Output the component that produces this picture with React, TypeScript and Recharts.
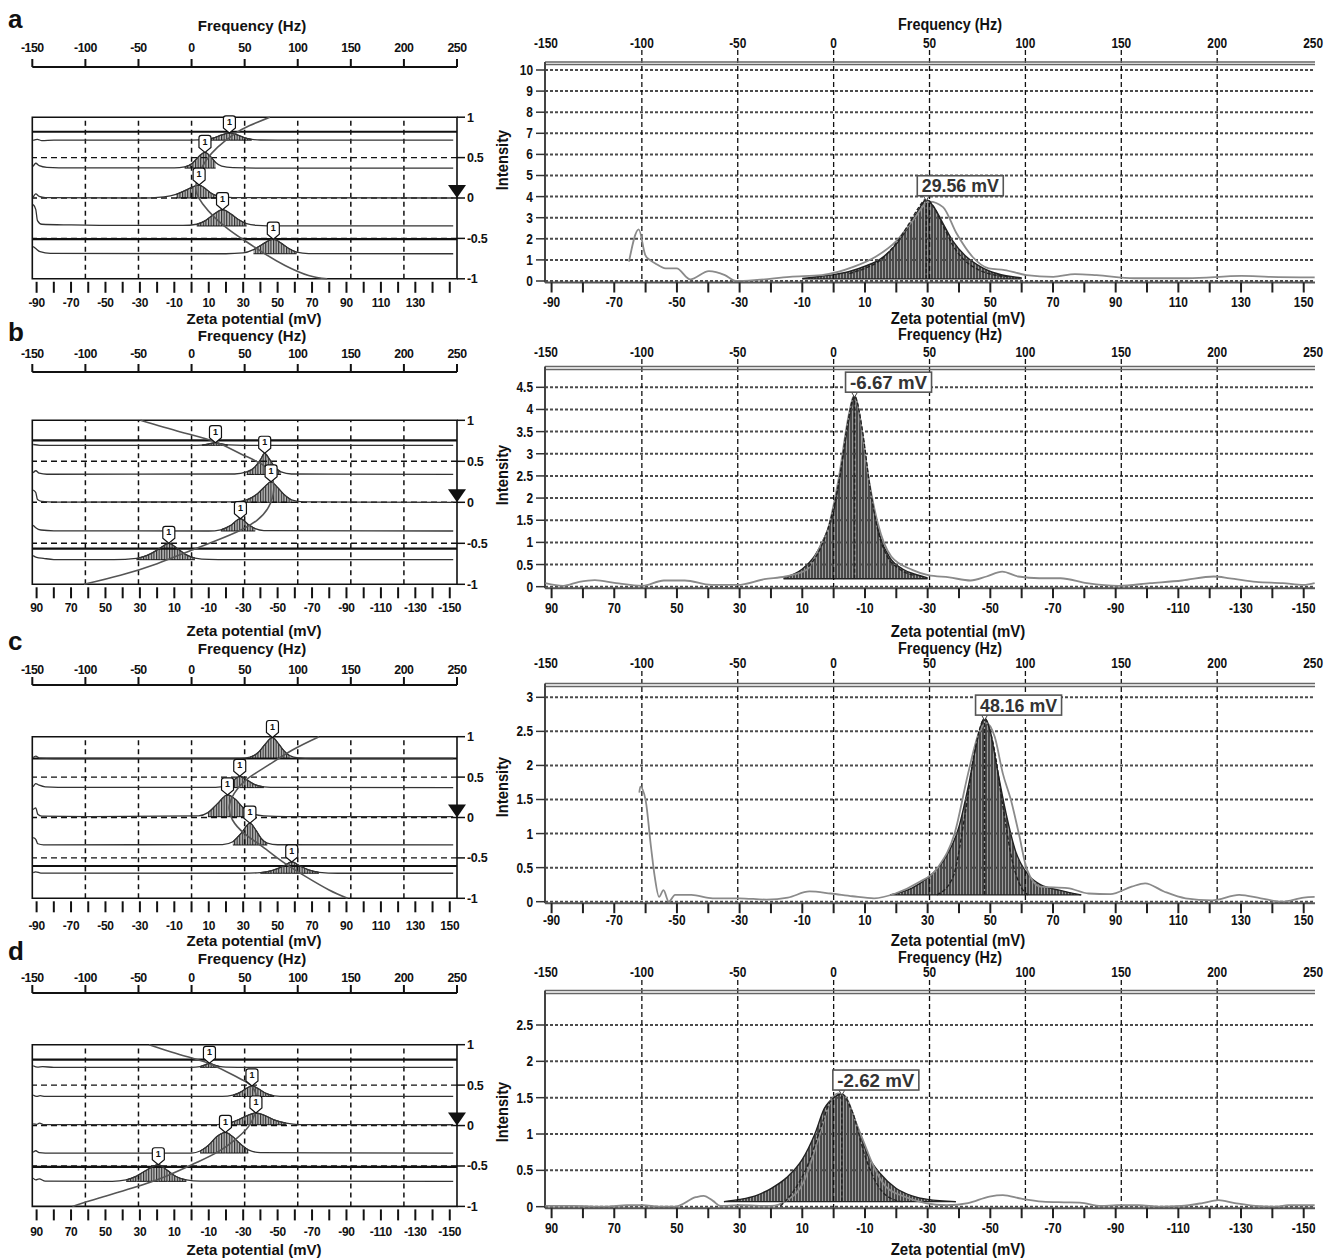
import React from 'react';
import {
  ComposedChart, Line, Area, XAxis, YAxis,
  ReferenceLine, ReferenceDot, ReferenceArea,
} from 'recharts';

type P = [number, number];

// ---------------- tick values ----------------
const freqTicks = [-150, -100, -50, 0, 50, 100, 150, 200, 250];
const freqGridLines = [-100, -50, 0, 50, 100, 150, 200];
const zetaTicksUp = [-90, -80, -70, -60, -50, -40, -30, -20, -10, 0, 10, 20, 30, 40, 50, 60, 70, 80, 90, 100, 110, 120, 130, 140, 150];
const zetaTicksDown = [90, 80, 70, 60, 50, 40, 30, 20, 10, 0, -10, -20, -30, -40, -50, -60, -70, -80, -90, -100, -110, -120, -130, -140, -150];
const zetaLabelsUp = [-90, -70, -50, -30, -10, 10, 30, 50, 70, 90, 110, 130, 150];
const zetaLabelsUpShort = [-90, -70, -50, -30, -10, 10, 30, 50, 70, 90, 110, 130];
const zetaLabelsDown = [90, 70, 50, 30, 10, -10, -30, -50, -70, -90, -110, -130, -150];
const phaseTicks = [-1, -0.5, 0, 0.5, 1];
const intensityTicksA = [0, 1, 2, 3, 4, 5, 6, 7, 8, 9, 10];
const intensityTicksB = [0, 0.5, 1, 1.5, 2, 2.5, 3, 3.5, 4, 4.5];
const intensityTicksC = [0, 0.5, 1, 1.5, 2, 2.5, 3];
const intensityTicksD = [0, 0.5, 1, 1.5, 2, 2.5];

// ---------------- right panels: intensity vs zeta (mV) ----------------
const aRaw: P[] = [[-65.3, 0.92], [-62.2, 2.45], [-60.1, 1.23], [-58.7, 1.0], [-57, 0.84], [-53.6, 0.6], [-50.1, 0.6], [-45.8, 0.08], [-39.8, 0.47], [-34.7, 0.28], [-31.2, 0.0], [-24.4, 0.05], [-14, 0.2], [-3.8, 0.28], [6.5, 0.68], [13.4, 1.15], [20.3, 1.94], [25.4, 2.9], [30.6, 3.76], [34.9, 3.5], [39.2, 2.26], [44.3, 1.15], [49.5, 0.6], [54.6, 0.52], [61.5, 0.28], [70.1, 0.2], [77, 0.33], [83.9, 0.28], [95.9, 0.13], [113, 0.13], [130.2, 0.24], [138.8, 0.2], [153.5, 0.17]];
const aHatch: P[] = [[-10, 0.12], [-5, 0.2], [0, 0.3], [5, 0.45], [10, 0.7], [15, 1.05], [20, 1.75], [24, 2.6], [27, 3.35], [29.56, 3.85], [32, 3.5], [35, 2.7], [38, 1.9], [42, 1.2], [46, 0.75], [50, 0.45], [55, 0.25], [60, 0.15]];
const aFit: P[] = [[5, 0.35], [10, 0.6], [15, 1.0], [20, 1.8], [24, 2.7], [27, 3.45], [29.56, 3.88], [32, 3.5], [35, 2.6], [38, 1.7], [42, 0.95], [46, 0.55], [50, 0.33], [56, 0.2]];

const bRaw: P[] = [[92, 0.08], [86.3, 0.02], [81.2, 0.11], [76.2, 0.15], [69.4, 0.08], [61, 0.02], [54.2, 0.14], [47.5, 0.14], [39, 0.04], [30.6, 0.04], [22.1, 0.17], [15.4, 0.23], [8.6, 0.38], [4.4, 0.9], [1.9, 1.28], [-1.5, 2.4], [-4.9, 3.9], [-6.6, 4.33], [-8.2, 3.9], [-10.8, 2.6], [-14.1, 1.43], [-18.4, 0.68], [-25.1, 0.38], [-30.2, 0.26], [-36.9, 0.21], [-43.7, 0.14], [-48.8, 0.23], [-53.8, 0.34], [-58.9, 0.23], [-65.6, 0.19], [-72.4, 0.19], [-80.8, 0.08], [-91, 0.02], [-101, 0.08], [-111.2, 0.14], [-121.3, 0.23], [-126.4, 0.19], [-134.8, 0.11], [-143.3, 0.08], [-150, 0.04], [-153.5, 0.08]];
const bHatch: P[] = [[16, 0.2], [10, 0.4], [6, 0.7], [3, 1.1], [0, 1.7], [-2, 2.5], [-4, 3.4], [-5.5, 4.0], [-6.67, 4.3], [-8, 4.0], [-9.5, 3.3], [-11, 2.5], [-13, 1.7], [-15, 1.1], [-18, 0.65], [-22, 0.4], [-26, 0.28], [-30, 0.2]];
const bFit: P[] = [[8, 0.45], [4, 0.9], [1, 1.5], [-2, 2.5], [-4.5, 3.7], [-6.67, 4.3], [-9, 3.6], [-11.5, 2.3], [-14, 1.3], [-17, 0.7], [-21, 0.4], [-26, 0.25]];

const cRaw: P[] = [[-62, 1.6], [-61.7, 1.69], [-60, 1.49], [-58.3, 0.81], [-57.1, 0.37], [-55.7, 0.07], [-54.3, 0.17], [-52.6, 0.0], [-50.6, 0.1], [-45.4, 0.1], [-38.6, 0.05], [-30, 0.05], [-21.4, 0.03], [-14.6, 0.06], [-7.7, 0.15], [-0.9, 0.12], [6, 0.08], [12.9, 0.05], [19.7, 0.12], [26.6, 0.27], [33.4, 0.51], [38.6, 1.0], [42.9, 1.88], [46.3, 2.47], [48.8, 2.62], [51.4, 2.42], [54, 1.88], [56.6, 1.49], [59.1, 1.0], [61.7, 0.47], [66, 0.22], [74.6, 0.2], [81.4, 0.12], [88.3, 0.11], [95.1, 0.22], [99.4, 0.27], [105.4, 0.15], [112.3, 0.05], [120.8, 0.02], [129.4, 0.1], [136.3, 0.05], [143.1, 0.0], [150, 0.06], [153.5, 0.07]];
const cHatch: P[] = [[18, 0.1], [25, 0.2], [30, 0.35], [35, 0.6], [40, 1.1], [43, 1.7], [46, 2.4], [48.16, 2.7], [50, 2.5], [52, 2.0], [55, 1.3], [58, 0.75], [62, 0.4], [66, 0.25], [72, 0.17], [79, 0.1]];
const cFit: P[] = [[33, 0.1], [38, 0.35], [42, 1.3], [45, 2.2], [48.16, 2.68], [51, 2.3], [54, 1.4], [57, 0.6], [60, 0.2], [62, 0.1]];

const dRaw: P[] = [[92, 0.01], [82.9, 0.01], [72.7, 0.0], [65.9, 0.02], [60.8, 0.02], [55.7, 0.0], [50.6, 0.0], [44, 0.13], [41.5, 0.15], [38.5, 0.08], [36.1, 0.01], [30.2, 0.02], [20, 0.01], [14.9, 0.09], [9.8, 0.32], [4.7, 0.96], [1.3, 1.42], [-1.3, 1.56], [-3.8, 1.51], [-7.2, 1.15], [-9.8, 0.87], [-12.3, 0.6], [-16.6, 0.28], [-22.5, 0.14], [-29.3, 0.05], [-36.1, 0.02], [-42.9, 0.05], [-49.7, 0.14], [-54, 0.16], [-59.9, 0.11], [-66.7, 0.07], [-73.5, 0.06], [-78.6, 0.055], [-85.4, 0.01], [-90.5, 0.02], [-97.3, 0.02], [-104.1, 0.0], [-110.9, 0.01], [-117.7, 0.05], [-122.8, 0.09], [-128, 0.05], [-134.7, 0.01], [-141.5, 0.0], [-145, 0.02], [-153.5, 0.02]];
const dHatch: P[] = [[35, 0.07], [30, 0.1], [25, 0.15], [20, 0.25], [15, 0.4], [10, 0.65], [6, 1.0], [3, 1.35], [0, 1.5], [-2.62, 1.55], [-5, 1.4], [-8, 1.05], [-11, 0.7], [-15, 0.45], [-20, 0.25], [-25, 0.15], [-30, 0.1], [-39, 0.07]];
const dFit: P[] = [[17, 0.01], [13, 0.2], [8, 0.6], [4, 1.1], [1, 1.45], [-2.62, 1.55], [-6, 1.3], [-10, 0.7], [-14, 0.3], [-18, 0.12], [-22, 0.07]];

const hatchBases = [0.1, 0.18, 0.1, 0.07];
const peakZ = [29.56, -6.67, 48.16, -2.62];
const peakI = [3.85, 4.3, 2.68, 1.55];
const peakText = ['29.56 mV', '-6.67 mV', '48.16 mV', '-2.62 mV'];

// ---------------- left panels: stacked traces (phase units) ----------------
const aT1: P[] = [[-92, 0.712], [-89.5, 0.725], [-87, 0.71], [-80, 0.716], [0, 0.716], [8, 0.722], [13, 0.745], [17.5, 0.78], [22, 0.805], [26.5, 0.782], [30.5, 0.748], [35, 0.726], [40, 0.718], [50, 0.716], [152, 0.716]];
const aT2: P[] = [[-92, 0.39], [-90.5, 0.43], [-88.5, 0.4], [-84, 0.38], [-70, 0.372], [-10, 0.372], [-4, 0.385], [0.5, 0.43], [4.5, 0.52], [7.8, 0.565], [11, 0.515], [14, 0.44], [17.5, 0.395], [24, 0.376], [40, 0.37], [152, 0.37]];
const aT3: P[] = [[-92, 0.01], [-90.5, 0.05], [-88.5, 0.02], [-85, 0.005], [-30, 0.0], [-16, 0.015], [-9, 0.045], [-3, 0.1], [1.5, 0.145], [4.4, 0.16], [7.5, 0.125], [11, 0.065], [15, 0.025], [24, 0.005], [152, 0]];
const aT4: P[] = [[-92, -0.08], [-90.5, -0.14], [-89.5, -0.28], [-87, -0.325], [-70, -0.333], [-40, -0.34], [-5, -0.34], [3, -0.325], [8, -0.28], [13, -0.2], [18, -0.145], [23, -0.2], [27.5, -0.27], [32, -0.318], [38, -0.338], [50, -0.346], [152, -0.346]];
const aT5: P[] = [[-92, -0.6], [-90.5, -0.625], [-88, -0.665], [-82, -0.685], [20, -0.69], [30, -0.68], [36, -0.64], [41, -0.575], [47.5, -0.51], [52.5, -0.565], [56.5, -0.625], [61, -0.67], [68, -0.688], [152, -0.69]];
const aBases = [0.716, 0.37, 0, -0.346, -0.69];
const aHatchRanges: P[] = [[8, 38], [-4, 17], [-10, 15], [3, 34], [32, 62]];
const aFlagZ = [22, 7.8, 4.4, 18, 47.5];
const aFlagV = [0.805, 0.565, 0.16, -0.145, -0.51];
const aPhase: P[] = [[45.5, 1.0], [33.8, 0.897], [25, 0.794], [15.2, 0.629], [8.4, 0.464], [4.4, 0.299], [2.5, 0.155], [3.1, 0.052], [6.4, -0.072], [13.2, -0.237], [21.1, -0.381], [30.8, -0.526], [42.6, -0.691], [54.3, -0.835], [68, -0.959], [78.8, -1.0]];
const aSolid = [0.82, -0.51];

const bT1: P[] = [[92, 0.705], [88, 0.695], [0, 0.695], [-6, 0.698], [-10, 0.712], [-13.9, 0.728], [-17, 0.713], [-21, 0.7], [-30, 0.695], [-152, 0.695]];
const bT2: P[] = [[92, 0.36], [90.5, 0.385], [88.5, 0.355], [84, 0.342], [-25, 0.345], [-32, 0.37], [-36.5, 0.425], [-40, 0.52], [-42.5, 0.598], [-45, 0.535], [-48, 0.44], [-52, 0.37], [-58, 0.345], [-152, 0.34]];
const bT3: P[] = [[92, 0.15], [90.5, 0.12], [89.5, 0.035], [87, 0.012], [80, 0.003], [-25, 0.005], [-32, 0.03], [-38, 0.1], [-42, 0.18], [-46.2, 0.25], [-50, 0.18], [-54, 0.09], [-58, 0.03], [-65, 0.005], [-152, 0]];
const bT4: P[] = [[92, -0.28], [90.5, -0.31], [87.5, -0.338], [80, -0.348], [-10, -0.35], [-17, -0.335], [-22.5, -0.285], [-28.4, -0.2], [-33, -0.27], [-37, -0.322], [-42, -0.345], [-152, -0.35]];
const bT5: P[] = [[92, -0.65], [90, -0.672], [86, -0.684], [80, -0.698], [45, -0.7], [32, -0.685], [24, -0.63], [18, -0.555], [13.2, -0.5], [8.5, -0.56], [3.5, -0.635], [-2, -0.68], [-10, -0.697], [-40, -0.7], [-152, -0.7]];
const bBases = [0.695, 0.34, 0, -0.35, -0.7];
const bHatchRanges: P[] = [[-6, -21], [-32, -52], [-32, -58], [-17, -37], [32, -2]];
const bFlagZ = [-13.9, -42.5, -46.2, -28.4, 13.2];
const bFlagV = [0.728, 0.598, 0.25, -0.2, -0.5];
const bPhase: P[] = [[29.7, 1.0], [6.4, 0.858], [-13.9, 0.736], [-28.4, 0.593], [-41.9, 0.451], [-46.8, 0.309], [-47.7, 0.146], [-44.8, -0.057], [-38, -0.22], [-28.4, -0.341], [-14.8, -0.463], [2.6, -0.606], [20, -0.748], [41.3, -0.89], [62.5, -1.0]];
const bSolid = [0.756, -0.565];

const cT1: P[] = [[-92, 0.742], [-90.5, 0.76], [-88.5, 0.736], [-80, 0.73], [28, 0.73], [34, 0.748], [38.5, 0.8], [42.5, 0.9], [47, 0.99], [50.5, 0.915], [53.5, 0.83], [57, 0.765], [62, 0.737], [70, 0.73], [152, 0.73]];
const cT2: P[] = [[-92, 0.38], [-90.5, 0.42], [-88.5, 0.4], [-85, 0.38], [-70, 0.372], [14, 0.374], [20, 0.398], [24, 0.455], [28, 0.51], [32, 0.468], [36.5, 0.41], [42, 0.38], [50, 0.372], [152, 0.37]];
const cT3: P[] = [[-92, 0.1], [-90.5, 0.12], [-89.3, 0.04], [-87, 0.016], [-60, 0.01], [4, 0.02], [9.5, 0.06], [15, 0.17], [20.9, 0.28], [25.5, 0.225], [30, 0.12], [35, 0.05], [42, 0.02], [55, 0.01], [152, 0.01]];
const cT4: P[] = [[-92, -0.25], [-90.5, -0.27], [-89.3, -0.325], [-86, -0.338], [18, -0.336], [24, -0.3], [29, -0.19], [33.9, -0.07], [37.5, -0.16], [40.5, -0.26], [44, -0.318], [50, -0.337], [152, -0.34]];
const cT5: P[] = [[-92, -0.682], [-90.5, -0.672], [-87.5, -0.688], [30, -0.69], [40, -0.682], [47, -0.655], [53, -0.605], [58.2, -0.55], [63, -0.6], [68, -0.648], [74, -0.678], [85, -0.69], [152, -0.69]];
const cBases = [0.73, 0.37, 0.01, -0.34, -0.69];
const cHatchRanges: P[] = [[34, 57], [20, 42], [9, 35], [23, 44], [40, 74]];
const cFlagZ = [47, 28, 20.9, 33.9, 58.2];
const cFlagV = [0.99, 0.51, 0.28, -0.07, -0.55];
const cPhase: P[] = [[74.1, 1.0], [58.6, 0.835], [43.2, 0.629], [31.5, 0.464], [24.8, 0.299], [21.9, 0.134], [23.8, -0.031], [30.6, -0.196], [41.2, -0.361], [52.8, -0.546], [66.4, -0.732], [79.9, -0.897], [90.6, -1.0]];
const cSolid = [0.73, -0.6];

const dT1: P[] = [[92, 0.74], [89.5, 0.722], [86.5, 0.728], [80, 0.72], [0, 0.72], [-5, 0.73], [-8, 0.752], [-10.4, 0.77], [-13, 0.75], [-16, 0.732], [-20, 0.722], [-30, 0.72], [-152, 0.72]];
const dT2: P[] = [[92, 0.378], [90, 0.36], [88, 0.37], [85, 0.36], [-18, 0.36], [-24, 0.375], [-29, 0.42], [-32.5, 0.468], [-35.1, 0.49], [-38.5, 0.46], [-43, 0.4], [-48, 0.368], [-55, 0.36], [-152, 0.36]];
const dT3: P[] = [[92, 0.02], [90, 0.015], [88.3, 0.03], [86, 0.012], [-15, 0.012], [-22, 0.03], [-28, 0.08], [-33, 0.13], [-37.4, 0.155], [-42, 0.13], [-48, 0.07], [-55, 0.03], [-62, 0.012], [-152, 0.01]];
const dT4: P[] = [[92, -0.33], [90.5, -0.312], [88.5, -0.335], [85, -0.34], [0, -0.34], [-5, -0.315], [-10, -0.24], [-14.5, -0.14], [-19.7, -0.085], [-23.5, -0.13], [-28, -0.22], [-33, -0.3], [-40, -0.335], [-152, -0.34]];
const dT5: P[] = [[92, -0.65], [90.5, -0.672], [88.5, -0.66], [85, -0.688], [46, -0.69], [38, -0.672], [32, -0.625], [26, -0.55], [19.3, -0.485], [14, -0.555], [9, -0.63], [3, -0.672], [-5, -0.687], [-152, -0.69]];
const dBases = [0.72, 0.36, 0.01, -0.34, -0.69];
const dHatchRanges: P[] = [[-5, -16], [-24, -48], [-22, -55], [-5, -33], [38, 3]];
const dFlagZ = [-10.4, -35.1, -37.4, -19.7, 19.3];
const dFlagV = [0.77, 0.49, 0.155, -0.085, -0.485];
const dPhase: P[] = [[24.7, 1.0], [3.5, 0.856], [-11.9, 0.753], [-27.4, 0.588], [-35.1, 0.485], [-38, 0.32], [-37, 0.155], [-33.2, -0.01], [-26.4, -0.155], [-15.8, -0.32], [-2.3, -0.464], [15.1, -0.629], [34.4, -0.773], [53.7, -0.897], [69.2, -1.0]];
const dSolid = [0.815, -0.51];

// ---------------- helpers ----------------
const FONT = "'Liberation Sans', Arial, Helvetica, sans-serif";

const freqRows = freqTicks.map((f) => ({ f }));
const toRows = (pts: P[]) => pts.map(([z, v]) => ({ z, v }));
const toRange = (pts: P[], base: number, lo: number, hi: number) => {
  const a = Math.min(lo, hi);
  const b = Math.max(lo, hi);
  return pts.filter(([z]) => z >= a && z <= b).map(([z, v]) => ({ z, r: [base, v] }));
};

function makeTick(o: { anchor: string; dy: string; size: number; sx: number; show?: number[]; ls?: number }) {
  return (props: any) => {
    const { x, y, payload } = props;
    const v = payload.value;
    if (o.show && !o.show.includes(v)) return <g />;
    return (
      <g transform={`translate(${x},${y})`}>
        <text
          transform={`scale(${o.sx},1)`}
          textAnchor={o.anchor as any}
          dy={o.dy}
          fontSize={o.size}
          fontWeight={700}
          fontFamily={FONT}
          letterSpacing={o.ls ?? 0}
          fill="#111"
        >
          {String(v)}
        </text>
      </g>
    );
  };
}

const tickTopLeft = makeTick({ anchor: 'middle', dy: '0', size: 13, sx: 0.95, ls: -0.5 });
const tickRightLeft = makeTick({ anchor: 'start', dy: '0.355em', size: 12.5, sx: 1, ls: -0.3 });
const tickTopRight = makeTick({ anchor: 'middle', dy: '0', size: 14, sx: 0.85 });
const tickYRight = makeTick({ anchor: 'end', dy: '0.355em', size: 14, sx: 0.85 });

const FlagShape = (p: any) => {
  const { cx, cy } = p;
  if (cx == null || cy == null) return <g />;
  const w = 6, t = 5, b = 12;
  const top = cy - t - b;
  const d = `M${cx},${cy} L${cx - w},${cy - t} L${cx - w},${top + 2.5} Q${cx - w},${top} ${cx - w + 2.5},${top} L${cx + w - 2.5},${top} Q${cx + w},${top} ${cx + w},${top + 2.5} L${cx + w},${cy - t} Z`;
  return (
    <g>
      <path d={d} fill="#fff" stroke="#111" strokeWidth={1.2} />
      <text x={cx} y={cy - 7.8} textAnchor="middle" fontSize={9} fontWeight={700} fontFamily={FONT} fill="#111">1</text>
    </g>
  );
};

const TriShape = (p: any) => {
  const { cx, cy } = p;
  if (cx == null || cy == null) return <g />;
  return <path d={`M${cx - 9},${cy - 13} L${cx + 9},${cy - 13} L${cx},${cy} Z`} fill="#111" />;
};

const makePeakLabel = (text: string) => (p: any) => {
  const { cx, cy } = p;
  if (cx == null || cy == null) return <g />;
  const w = 86, h = 20;
  const bx = cx - 9, by = cy - 4 - h;
  return (
    <g>
      <path d={`M${cx - 3},${cy - 4} L${cx + 3},${cy - 4} L${cx},${cy + 1} Z`} fill="#fff" stroke="#444" strokeWidth={1} />
      <rect x={bx} y={by} width={w} height={h} fill="#fff" stroke="#555" strokeWidth={1.6} />
      <text x={bx + w / 2} y={by + 16.5} textAnchor="middle" fontSize={18} fontWeight={700} fontFamily={FONT}
        fill="#333" textLength={w - 9} lengthAdjust="spacingAndGlyphs">{text}</text>
    </g>
  );
};

// ---------------- layouts (pixel positions on the page) ----------------
const leftLayouts = [
  { axisY: 66.5, boxTop: 116.7, boxBottom: 278.3, tmTop: 7, tmBot: 4.5 },
  { axisY: 371.7, boxTop: 420, boxBottom: 584, tmTop: 5.5, tmBot: 4.5 },
  { axisY: 685, boxTop: 736.7, boxBottom: 898.3, tmTop: 3, tmBot: 8 },
  { axisY: 993.3, boxTop: 1045, boxBottom: 1206.7, tmTop: 2.5, tmBot: 6 },
];
const rightLayouts = [
  { plotTop: 50, zeroY: 281, ppu: 21.1, labelTop: 43.3, labelBottom: 301.7, dbl: [62, 64.5] },
  { plotTop: 359, zeroY: 586.7, ppu: 44.31, labelTop: 351.7, labelBottom: 608.3, dbl: [366.5, 369.5] },
  { plotTop: 671, zeroY: 901.7, ppu: 68.13, labelTop: 663.3, labelBottom: 920, dbl: [683.5, 686.5] },
  { plotTop: 980, zeroY: 1206.7, ppu: 72.68, labelTop: 971.7, labelBottom: 1228.3, dbl: [990.5, 993.5] },
];

function LeftPanel(props: any) {
  const { id, L, traces, bases, hatch, flagZ, flagV, phase, solids, reversed, zetaLabels } = props;
  const topH = 32, botH = 34, gap = 3;
  const plotTop = L.axisY;
  const plotBottom = L.boxBottom + gap;
  const ppu = (L.boxBottom - L.boxTop) / 2;
  const yTop = 1 + (L.boxTop - L.axisY) / ppu;
  const yBot = -1 - gap / ppu;
  const height = topH + (plotBottom - plotTop) + botH;
  const zDom = reversed ? [-154.2, 92.5] : [-92.5, 154.2];
  const zTicks = reversed ? zetaTicksDown : zetaTicksUp;
  const tickZeta = makeTick({ anchor: 'middle', dy: '0.71em', size: 13, sx: 0.92, show: zetaLabels, ls: -0.3 });
  return (
    <div style={{ position: 'absolute', left: 0, top: L.axisY - topH }}>
      <ComposedChart width={490} height={height} data={freqRows} margin={{ top: 0, right: 0, bottom: 0, left: 32.3 }}>
        <defs>
          <pattern id={`hl-${id}`} width={2.6} height={6} patternUnits="userSpaceOnUse">
            <rect width={2.6} height={6} fill="#bdbdbd" />
            <line x1={0.6} y1={0} x2={0.6} y2={6} stroke="#1a1a1a" strokeWidth={1} />
          </pattern>
        </defs>
        <XAxis xAxisId="f" dataKey="f" orientation="top" type="number" domain={[-150, 250]} allowDataOverflow ticks={freqTicks}
          interval={0} height={topH} axisLine={{ stroke: '#111', strokeWidth: 1.8 }}
          tickLine={{ stroke: '#111', strokeWidth: 2 }} tickSize={8} tickMargin={L.tmTop} tick={tickTopLeft} />
        <XAxis type="number" dataKey="z" domain={zDom} reversed={reversed} allowDataOverflow ticks={zTicks}
          interval={0} height={botH} axisLine={false} tickLine={{ stroke: '#111', strokeWidth: 2 }}
          tickSize={11} tickMargin={L.tmBot} tick={tickZeta} />
        <YAxis orientation="right" type="number" domain={[yBot, yTop]} allowDataOverflow ticks={phaseTicks}
          interval={0} width={33} axisLine={false} tickLine={{ stroke: '#111', strokeWidth: 1.5 }}
          tickSize={8} tickMargin={2} tick={tickRightLeft} />
        <ReferenceArea xAxisId="f" x1={-150} x2={250} y1={-1} y2={1} fill="none" fillOpacity={0}
          stroke="#111" strokeWidth={1.6} ifOverflow="visible" />
        {[0.5, 0, -0.5].map((v) => (
          <ReferenceLine key={`g${v}`} xAxisId="f" y={v} stroke="#111" strokeDasharray="6 4" strokeWidth={1.4} />
        ))}
        {freqGridLines.map((f) => (
          <ReferenceLine key={`v${f}`} xAxisId="f" segment={[{ x: f, y: -1 }, { x: f, y: 1 }]}
            stroke="#111" strokeDasharray="5 4" strokeWidth={1.5} />
        ))}
        {solids.map((s: number) => (
          <ReferenceLine key={`s${s}`} xAxisId="f" y={s} stroke="#111" strokeWidth={2.2} />
        ))}
        {traces.map((t: P[], i: number) => (
          <Area key={`h${i}`} data={toRange(t, bases[i], hatch[i][0], hatch[i][1])} dataKey="r" type="monotone"
            stroke="#111" strokeWidth={1} fill={`url(#hl-${id})`} fillOpacity={1} dot={false} activeDot={false}
            isAnimationActive={false} />
        ))}
        {traces.map((t: P[], i: number) => (
          <Line key={`t${i}`} data={toRows(t)} dataKey="v" type="monotone" stroke="#333" strokeWidth={1.3}
            dot={false} activeDot={false} isAnimationActive={false} />
        ))}
        <Line data={toRows(phase)} dataKey="v" type="natural" stroke="#555" strokeWidth={1.6}
          dot={false} activeDot={false} isAnimationActive={false} />
        {flagZ.map((z: number, i: number) => (
          <ReferenceDot key={`f${i}`} x={z} y={flagV[i]} r={1} shape={FlagShape} ifOverflow="visible" />
        ))}
        <ReferenceDot xAxisId="f" x={250} y={0} r={1} shape={TriShape} ifOverflow="visible" />
      </ComposedChart>
    </div>
  );
}

function RightPanel(props: any) {
  const { id, R, raw, hatch, hatchBase, fit, yTicks, reversed, zetaLabels, pz, pi, ptext } = props;
  const topH = 24, botH = 36;
  const plotTop = R.plotTop;
  const plotBottom = R.zeroY + 1.5;
  const yTop = (R.zeroY - plotTop) / R.ppu;
  const yBot = (R.zeroY - plotBottom) / R.ppu;
  const d1 = (R.zeroY - R.dbl[0]) / R.ppu;
  const d2 = (R.zeroY - R.dbl[1]) / R.ppu;
  const height = topH + (plotBottom - plotTop) + botH;
  const zDom = reversed ? [-153.6, 92.1] : [-92.1, 153.6];
  const zTicks = reversed ? zetaTicksDown : zetaTicksUp;
  const tmTop = plotTop - (R.labelTop + 5);
  const tmBot = R.labelBottom - 5 - plotBottom - 10;
  const tickZeta = makeTick({ anchor: 'middle', dy: '0.71em', size: 14, sx: 0.85, show: zetaLabels });
  return (
    <div style={{ position: 'absolute', left: 490, top: plotTop - topH }}>
      <ComposedChart width={837} height={height} data={freqRows} margin={{ top: 0, right: 12, bottom: 0, left: 0 }}>
        <defs>
          <pattern id={`hr-${id}`} width={3} height={6} patternUnits="userSpaceOnUse">
            <rect width={3} height={6} fill="#9c9c9c" />
            <line x1={1} y1={0} x2={1} y2={6} stroke="#1c1c1c" strokeWidth={1.3} />
          </pattern>
        </defs>
        <XAxis xAxisId="f" dataKey="f" orientation="top" type="number" domain={[-150.5, 251]} allowDataOverflow ticks={freqTicks}
          interval={0} height={topH} axisLine={false} tickLine={false} tickSize={0} tickMargin={tmTop} tick={tickTopRight} />
        <XAxis type="number" dataKey="z" domain={zDom} reversed={reversed} allowDataOverflow ticks={zTicks}
          interval={0} height={botH} axisLine={{ stroke: '#555', strokeWidth: 2 }}
          tickLine={{ stroke: '#222', strokeWidth: 2 }} tickSize={10} tickMargin={tmBot} tick={tickZeta} />
        <YAxis type="number" domain={[yBot, yTop]} allowDataOverflow ticks={yTicks} interval={0} width={55}
          axisLine={false} tickLine={{ stroke: '#333', strokeWidth: 1.5 }} tickSize={9} tickMargin={3} tick={tickYRight} />
        {yTicks.map((t: number) => (
          <ReferenceLine key={`h${t}`} xAxisId="f" y={t} stroke="#4a4a4a" strokeDasharray="3 2" strokeWidth={2} />
        ))}
        {freqGridLines.map((f) => (
          <ReferenceLine key={`v${f}`} xAxisId="f" x={f} stroke="#111" strokeDasharray="5 3" strokeWidth={1.3} />
        ))}
        <ReferenceLine xAxisId="f" y={d1} stroke="#666" strokeWidth={1.5} />
        <ReferenceLine xAxisId="f" y={d2} stroke="#666" strokeWidth={1.5} />
        <ReferenceLine xAxisId="f" segment={[{ x: -150.5, y: yBot }, { x: -150.5, y: d1 }]} stroke="#444" strokeWidth={2} ifOverflow="visible" />
        <Area data={toRange(hatch, hatchBase, -999, 999)} dataKey="r" type="monotone" stroke="#222" strokeWidth={1.4}
          fill={`url(#hr-${id})`} fillOpacity={1} dot={false} activeDot={false} isAnimationActive={false} />
        <Line data={toRows(raw)} dataKey="v" type="monotone" stroke="#8a8a8a" strokeWidth={1.8}
          dot={false} activeDot={false} isAnimationActive={false} />
        <Line data={toRows(fit)} dataKey="v" type="monotone" stroke="#222" strokeWidth={1.4} strokeDasharray="4 2"
          dot={false} activeDot={false} isAnimationActive={false} />
        <ReferenceLine segment={[{ x: pz, y: hatchBase }, { x: pz, y: pi }]} stroke="#222" strokeDasharray="4 2" strokeWidth={1.5} />
        <ReferenceDot x={pz} y={pi} r={1} shape={makePeakLabel(ptext)} ifOverflow="visible" />
      </ComposedChart>
    </div>
  );
}

const Txt = ({ x, y, size, sx = 1, text, rotate = false }: any) => (
  <div
    style={{
      position: 'absolute', left: x, top: y,
      transform: `translate(-50%,-50%)${rotate ? ' rotate(-90deg)' : ''} scaleX(${sx})`,
      fontFamily: FONT, fontWeight: 700, fontSize: size, lineHeight: 1, whiteSpace: 'nowrap', color: '#111',
    }}
  >
    {text}
  </div>
);

const Letter = ({ top, text }: any) => (
  <div style={{ position: 'absolute', left: 8, top, fontFamily: FONT, fontWeight: 700, fontSize: 26, lineHeight: 1, color: '#111' }}>
    {text}
  </div>
);

export default function App() {
  const rows = [
    {
      id: 'a', letterTop: 6, fl: 25, fr: 25, zl: 318, zr: 318, it: 160,
      left: { traces: [aT1, aT2, aT3, aT4, aT5], bases: aBases, hatch: aHatchRanges, flagZ: aFlagZ, flagV: aFlagV, phase: aPhase, solids: aSolid, reversed: false, zetaLabels: zetaLabelsUpShort },
      right: { raw: aRaw, hatch: aHatch, fit: aFit, yTicks: intensityTicksA, reversed: false, zetaLabels: zetaLabelsUp },
    },
    {
      id: 'b', letterTop: 319, fl: 335, fr: 335, zl: 630, zr: 631, it: 475,
      left: { traces: [bT1, bT2, bT3, bT4, bT5], bases: bBases, hatch: bHatchRanges, flagZ: bFlagZ, flagV: bFlagV, phase: bPhase, solids: bSolid, reversed: true, zetaLabels: zetaLabelsDown },
      right: { raw: bRaw, hatch: bHatch, fit: bFit, yTicks: intensityTicksB, reversed: true, zetaLabels: zetaLabelsDown },
    },
    {
      id: 'c', letterTop: 628, fl: 648.3, fr: 648.5, zl: 940, zr: 940, it: 787,
      left: { traces: [cT1, cT2, cT3, cT4, cT5], bases: cBases, hatch: cHatchRanges, flagZ: cFlagZ, flagV: cFlagV, phase: cPhase, solids: cSolid, reversed: false, zetaLabels: zetaLabelsUp },
      right: { raw: cRaw, hatch: cHatch, fit: cFit, yTicks: intensityTicksC, reversed: false, zetaLabels: zetaLabelsUp },
    },
    {
      id: 'd', letterTop: 938, fl: 958.3, fr: 957.5, zl: 1249, zr: 1249, it: 1112,
      left: { traces: [dT1, dT2, dT3, dT4, dT5], bases: dBases, hatch: dHatchRanges, flagZ: dFlagZ, flagV: dFlagV, phase: dPhase, solids: dSolid, reversed: true, zetaLabels: zetaLabelsDown },
      right: { raw: dRaw, hatch: dHatch, fit: dFit, yTicks: intensityTicksD, reversed: true, zetaLabels: zetaLabelsDown },
    },
  ];
  return (
    <div style={{ position: 'absolute', left: 0, top: 0, width: 1327, height: 1260, background: '#fff', overflow: 'hidden' }}>
      {rows.map((r, i) => (
        <React.Fragment key={r.id}>
          <LeftPanel id={r.id} L={leftLayouts[i]} {...r.left} />
          <RightPanel id={r.id} R={rightLayouts[i]} {...r.right} hatchBase={hatchBases[i]} pz={peakZ[i]} pi={peakI[i]} ptext={peakText[i]} />
          <Letter top={r.letterTop} text={r.id} />
          <Txt x={252} y={r.fl} size={15} text="Frequency (Hz)" />
          <Txt x={950} y={r.fr} size={16} sx={0.9} text="Frequency (Hz)" />
          <Txt x={254} y={r.zl} size={15} text="Zeta potential (mV)" />
          <Txt x={958} y={r.zr} size={17} sx={0.88} text="Zeta potential (mV)" />
          <Txt x={503} y={r.it} size={16} sx={0.92} rotate text="Intensity" />
        </React.Fragment>
      ))}
    </div>
  );
}
